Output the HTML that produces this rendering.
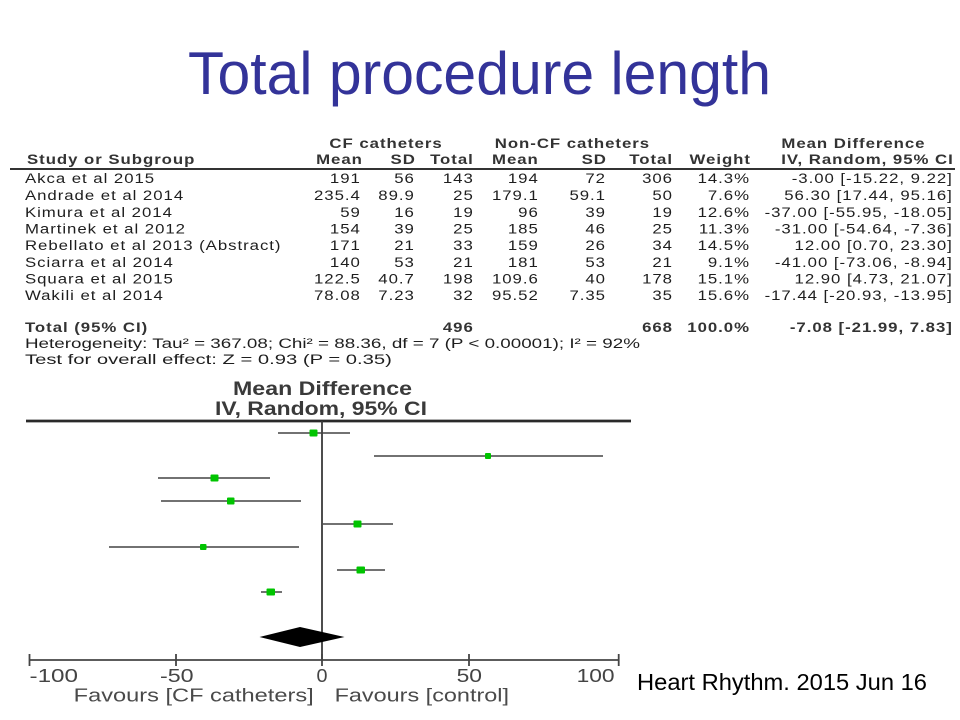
<!DOCTYPE html>
<html>
<head>
<meta charset="utf-8">
<style>
  html,body{margin:0;padding:0;background:#fff;}
  svg{display:block;}
  text{font-family:"Liberation Sans",Arial,sans-serif;}
</style>
</head>
<body>
<svg width="960" height="720" viewBox="0 0 960 720" xmlns="http://www.w3.org/2000/svg">
  <rect width="960" height="720" fill="#fff"/>
  <!-- Title -->
  <text x="188" y="94" font-size="60" fill="#333399" textLength="583" lengthAdjust="spacingAndGlyphs">Total procedure length</text>

  <!-- Table -->
  <line x1="10" y1="169" x2="955" y2="169" stroke="#333" stroke-width="2"/>
  <g transform="scale(1.2,1)" font-size="14" fill="#1e1e1e" letter-spacing="0.8">
    <g font-weight="bold" fill="#333">
      <text x="321.7" y="148" text-anchor="middle">CF catheters</text>
      <text x="477" y="148" text-anchor="middle">Non-CF catheters</text>
      <text x="711.2" y="148" text-anchor="middle">Mean Difference</text>
      <text x="22.5" y="164">Study or Subgroup</text>
      <text x="302.4" y="164" text-anchor="end">Mean</text>
      <text x="346.5" y="164" text-anchor="end">SD</text>
      <text x="394.8" y="164" text-anchor="end">Total</text>
      <text x="449" y="164" text-anchor="end">Mean</text>
      <text x="505.7" y="164" text-anchor="end">SD</text>
      <text x="560.8" y="164" text-anchor="end">Total</text>
      <text x="625.8" y="164" text-anchor="end">Weight</text>
      <text x="794.8" y="164" text-anchor="end">IV, Random, 95% CI</text>
    </g>
    <!-- rows -->
    <g>
      <text x="20.8" y="183">Akca et al 2015</text>
      <text x="20.8" y="200">Andrade et al 2014</text>
      <text x="20.8" y="217">Kimura et al 2014</text>
      <text x="20.8" y="233.5">Martinek et al 2012</text>
      <text x="20.8" y="250">Rebellato et al 2013 (Abstract)</text>
      <text x="20.8" y="267">Sciarra et al 2014</text>
      <text x="20.8" y="283.5">Squara et al 2015</text>
      <text x="20.8" y="300">Wakili et al 2014</text>
    </g>
    <g text-anchor="end">
      <!-- CF Mean -->
      <text x="300.7" y="183">191</text>
      <text x="300.7" y="200">235.4</text>
      <text x="300.7" y="217">59</text>
      <text x="300.7" y="233.5">154</text>
      <text x="300.7" y="250">171</text>
      <text x="300.7" y="267">140</text>
      <text x="300.7" y="283.5">122.5</text>
      <text x="300.7" y="300">78.08</text>
      <!-- CF SD -->
      <text x="345.7" y="183">56</text>
      <text x="345.7" y="200">89.9</text>
      <text x="345.7" y="217">16</text>
      <text x="345.7" y="233.5">39</text>
      <text x="345.7" y="250">21</text>
      <text x="345.7" y="267">53</text>
      <text x="345.7" y="283.5">40.7</text>
      <text x="345.7" y="300">7.23</text>
      <!-- CF Total -->
      <text x="394.8" y="183">143</text>
      <text x="394.8" y="200">25</text>
      <text x="394.8" y="217">19</text>
      <text x="394.8" y="233.5">25</text>
      <text x="394.8" y="250">33</text>
      <text x="394.8" y="267">21</text>
      <text x="394.8" y="283.5">198</text>
      <text x="394.8" y="300">32</text>
      <!-- NonCF Mean -->
      <text x="449" y="183">194</text>
      <text x="449" y="200">179.1</text>
      <text x="449" y="217">96</text>
      <text x="449" y="233.5">185</text>
      <text x="449" y="250">159</text>
      <text x="449" y="267">181</text>
      <text x="449" y="283.5">109.6</text>
      <text x="449" y="300">95.52</text>
      <!-- NonCF SD -->
      <text x="505" y="183">72</text>
      <text x="505" y="200">59.1</text>
      <text x="505" y="217">39</text>
      <text x="505" y="233.5">46</text>
      <text x="505" y="250">26</text>
      <text x="505" y="267">53</text>
      <text x="505" y="283.5">40</text>
      <text x="505" y="300">7.35</text>
      <!-- NonCF Total -->
      <text x="560.8" y="183">306</text>
      <text x="560.8" y="200">50</text>
      <text x="560.8" y="217">19</text>
      <text x="560.8" y="233.5">25</text>
      <text x="560.8" y="250">34</text>
      <text x="560.8" y="267">21</text>
      <text x="560.8" y="283.5">178</text>
      <text x="560.8" y="300">35</text>
      <!-- Weight -->
      <text x="625" y="183">14.3%</text>
      <text x="625" y="200">7.6%</text>
      <text x="625" y="217">12.6%</text>
      <text x="625" y="233.5">11.3%</text>
      <text x="625" y="250">14.5%</text>
      <text x="625" y="267">9.1%</text>
      <text x="625" y="283.5">15.1%</text>
      <text x="625" y="300">15.6%</text>
      <!-- CI -->
      <text x="794" y="183">-3.00 [-15.22, 9.22]</text>
      <text x="794" y="200">56.30 [17.44, 95.16]</text>
      <text x="794" y="217">-37.00 [-55.95, -18.05]</text>
      <text x="794" y="233.5">-31.00 [-54.64, -7.36]</text>
      <text x="794" y="250">12.00 [0.70, 23.30]</text>
      <text x="794" y="267">-41.00 [-73.06, -8.94]</text>
      <text x="794" y="283.5">12.90 [4.73, 21.07]</text>
      <text x="794" y="300">-17.44 [-20.93, -13.95]</text>
    </g>
    <g font-weight="bold" fill="#333">
      <text x="20.8" y="332">Total (95% CI)</text>
      <text x="394.8" y="332" text-anchor="end">496</text>
      <text x="560.8" y="332" text-anchor="end">668</text>
      <text x="625" y="332" text-anchor="end">100.0%</text>
      <text x="794" y="332" text-anchor="end">-7.08 [-21.99, 7.83]</text>
    </g>
    <text x="20.8" y="348" letter-spacing="0" textLength="512.5" lengthAdjust="spacingAndGlyphs">Heterogeneity: Tau² = 367.08; Chi² = 88.36, df = 7 (P &lt; 0.00001); I² = 92%</text>
    <text x="20.8" y="364" letter-spacing="0" textLength="305.8" lengthAdjust="spacingAndGlyphs">Test for overall effect: Z = 0.93 (P = 0.35)</text>
  </g>

  <!-- Forest plot header -->
  <text x="233" y="395" font-size="19" font-weight="bold" fill="#3a3a3a" textLength="179" lengthAdjust="spacingAndGlyphs">Mean Difference</text>
  <text x="215" y="415" font-size="19" font-weight="bold" fill="#3a3a3a" textLength="212" lengthAdjust="spacingAndGlyphs">IV, Random, 95% CI</text>

  <!-- top line -->
  <line x1="26" y1="421" x2="631" y2="421" stroke="#2a2a2a" stroke-width="2.8"/>
  <!-- zero line -->
  <line x1="322" y1="421" x2="322" y2="660" stroke="#3a3a3a" stroke-width="1.8"/>

  <!-- CI lines -->
  <g stroke="#444" stroke-width="1.4">
    <line x1="278" y1="433" x2="350" y2="433"/>
    <line x1="374" y1="456" x2="603" y2="456"/>
    <line x1="158" y1="478" x2="270" y2="478"/>
    <line x1="161" y1="501" x2="301" y2="501"/>
    <line x1="323" y1="524" x2="393" y2="524"/>
    <line x1="109" y1="547" x2="299" y2="547"/>
    <line x1="337" y1="570" x2="385" y2="570"/>
    <line x1="261" y1="592" x2="282" y2="592"/>
  </g>
  <!-- points -->
  <g fill="#00c400">
    <rect x="309.5" y="429.5" width="8" height="7" rx="1"/>
    <rect x="485" y="453" width="6" height="6" rx="1"/>
    <rect x="210.5" y="474.5" width="8" height="7" rx="1"/>
    <rect x="227" y="497.5" width="7.5" height="7" rx="1"/>
    <rect x="353.5" y="520.5" width="8" height="7" rx="1"/>
    <rect x="200" y="544" width="6.5" height="6" rx="1"/>
    <rect x="356.5" y="566.5" width="8.5" height="7" rx="1"/>
    <rect x="266.5" y="588.5" width="8.5" height="7" rx="1"/>
  </g>
  <!-- diamond -->
  <polygon points="259.5,637 300,627 344.5,637 300,647" fill="#000"/>

  <!-- x axis -->
  <line x1="29.5" y1="660" x2="618.7" y2="660" stroke="#444" stroke-width="1.8"/>
  <g stroke="#444" stroke-width="1.8">
    <line x1="29.5" y1="654" x2="29.5" y2="666"/>
    <line x1="176" y1="654" x2="176" y2="666"/>
    <line x1="322" y1="654" x2="322" y2="666"/>
    <line x1="469" y1="654" x2="469" y2="666"/>
    <line x1="618.7" y1="654" x2="618.7" y2="666"/>
  </g>
  <g font-size="18" fill="#444">
    <text x="29.5" y="682" textLength="48.5" lengthAdjust="spacingAndGlyphs">-100</text>
    <text x="160" y="682" textLength="33.6" lengthAdjust="spacingAndGlyphs">-50</text>
    <text x="316.5" y="682" textLength="11" lengthAdjust="spacingAndGlyphs">0</text>
    <text x="456.6" y="682" textLength="25.4" lengthAdjust="spacingAndGlyphs">50</text>
    <text x="576.6" y="682" textLength="38" lengthAdjust="spacingAndGlyphs">100</text>
  </g>
  <g font-size="18" fill="#4a4a4a">
    <text x="73.7" y="701.5" textLength="240" lengthAdjust="spacingAndGlyphs">Favours [CF catheters]</text>
    <text x="334.6" y="701.5" textLength="174.4" lengthAdjust="spacingAndGlyphs">Favours [control]</text>
  </g>

  <!-- citation -->
  <text x="637" y="690" font-size="23" fill="#000" textLength="290" lengthAdjust="spacingAndGlyphs">Heart Rhythm. 2015 Jun 16</text>
</svg>
</body>
</html>
